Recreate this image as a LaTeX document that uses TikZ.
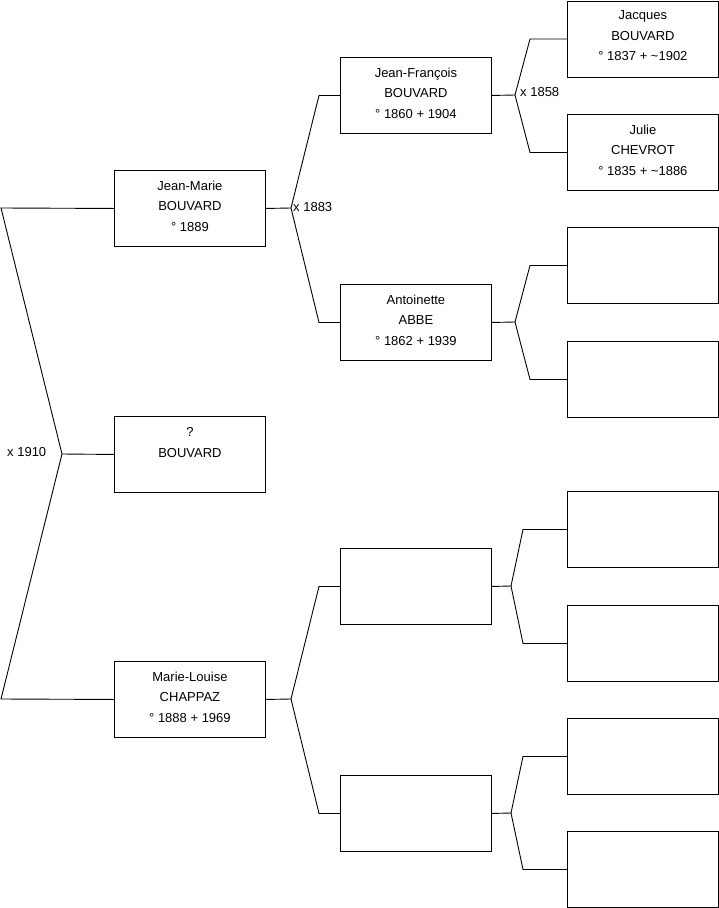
\documentclass[tikz,border=0pt]{standalone}
\usepackage{fontspec}
\setmainfont{Liberation Sans}
\begin{document}
\begin{tikzpicture}[x=1pt,y=-1pt,
  person/.style={draw=black, line width=0.9pt, minimum width=151pt, minimum height=76pt, inner sep=0pt, anchor=north west},
  txt/.style={anchor=north, inner sep=0pt, align=center, font=\fontsize{13}{20.5}\selectfont},
  lbl/.style={anchor=west, inner sep=0pt, font=\fontsize{13}{15}\selectfont},
  link/.style={draw=black, line width=0.9pt, line join=miter}]
\useasboundingbox (0,0) rectangle (719,908);
% generation 1
\node[person] (jm) at (114,170) {};
\node[person] (q) at (114,416) {};
\node[person] (ml) at (114,661) {};
% generation 2
\node[person] (jf) at (340,57) {};
\node[person] (an) at (340,284) {};
\node[person] (e1) at (340,548) {};
\node[person] (e2) at (340,775) {};
% generation 3
\node[person] (ja) at (567,0.5) {};
\node[person] (ju) at (567,114) {};
\node[person] (e3) at (567,227) {};
\node[person] (e4) at (567,341) {};
\node[person] (e5) at (567,491) {};
\node[person] (e6) at (567,605) {};
\node[person] (e7) at (567,718) {};
\node[person] (e8) at (567,831) {};
% texts
\node[txt] (jmt) at ([yshift=-10.8pt]jm.north) {Jean-Marie\\BOUVARD\\° 1889};
\node[txt] (qt) at ([yshift=-11.5pt]q.north) {?\\BOUVARD};
\node[txt] (mlt) at ([yshift=-10.8pt]ml.north) {Marie-Louise\\CHAPPAZ\\° 1888 + 1969};
\node[txt] (jft) at ([yshift=-10.8pt]jf.north) {Jean-François\\BOUVARD\\° 1860 + 1904};
\node[txt] (ant) at ([yshift=-10.8pt]an.north) {Antoinette\\ABBE\\° 1862 + 1939};
\node[txt] (jat) at ([yshift=-10.3pt]ja.north) {Jacques\\BOUVARD\\° 1837 + \char"7E 1902};
\node[txt] (jut) at ([yshift=-10.8pt]ju.north) {Julie\\CHEVROT\\° 1835 + \char"7E 1886};
% coordinates
\coordinate (a0) at (62,454);
\coordinate (l0) at (1,208);
\coordinate (l1) at (1,699);
\coordinate (a1) at (291,208);
\coordinate (a2) at (291,699);
\coordinate (a3) at (515,95);
\coordinate (a4) at (515,322);
\coordinate (a5) at (511,586);
\coordinate (a6) at (511,813);
% connectors
\draw[link] (jm.west) -- (l0) -- (a0) -- (l1) -- (ml.west);
\draw[link] (a0) -- (q.west);
\draw[link] (jm.east) -- (a1) -- ([xshift=-21pt]jf.west) -- (jf.west);
\draw[link] (a1) -- ([xshift=-21pt]an.west) -- (an.west);
\draw[link] (ml.east) -- (a2) -- ([xshift=-21pt]e1.west) -- (e1.west);
\draw[link] (a2) -- ([xshift=-21pt]e2.west) -- (e2.west);
\draw[link] (jf.east) -- (a3) -- ([xshift=-37pt]ja.west) -- (ja.west);
\draw[link] (a3) -- ([xshift=-37pt]ju.west) -- (ju.west);
\draw[link] (an.east) -- (a4) -- ([xshift=-37pt]e3.west) -- (e3.west);
\draw[link] (a4) -- ([xshift=-37pt]e4.west) -- (e4.west);
\draw[link] (e1.east) -- (a5) -- ([xshift=-44pt]e5.west) -- (e5.west);
\draw[link] (a5) -- ([xshift=-44pt]e6.west) -- (e6.west);
\draw[link] (e2.east) -- (a6) -- ([xshift=-44pt]e7.west) -- (e7.west);
\draw[link] (a6) -- ([xshift=-44pt]e8.west) -- (e8.west);
% marriage labels
\node[lbl] (m1910) at (7,452) {x 1910};
\node[lbl] (m1883) at (293,207) {x 1883};
\node[lbl] (m1858) at (520,92) {x 1858};
\end{tikzpicture}
\end{document}
